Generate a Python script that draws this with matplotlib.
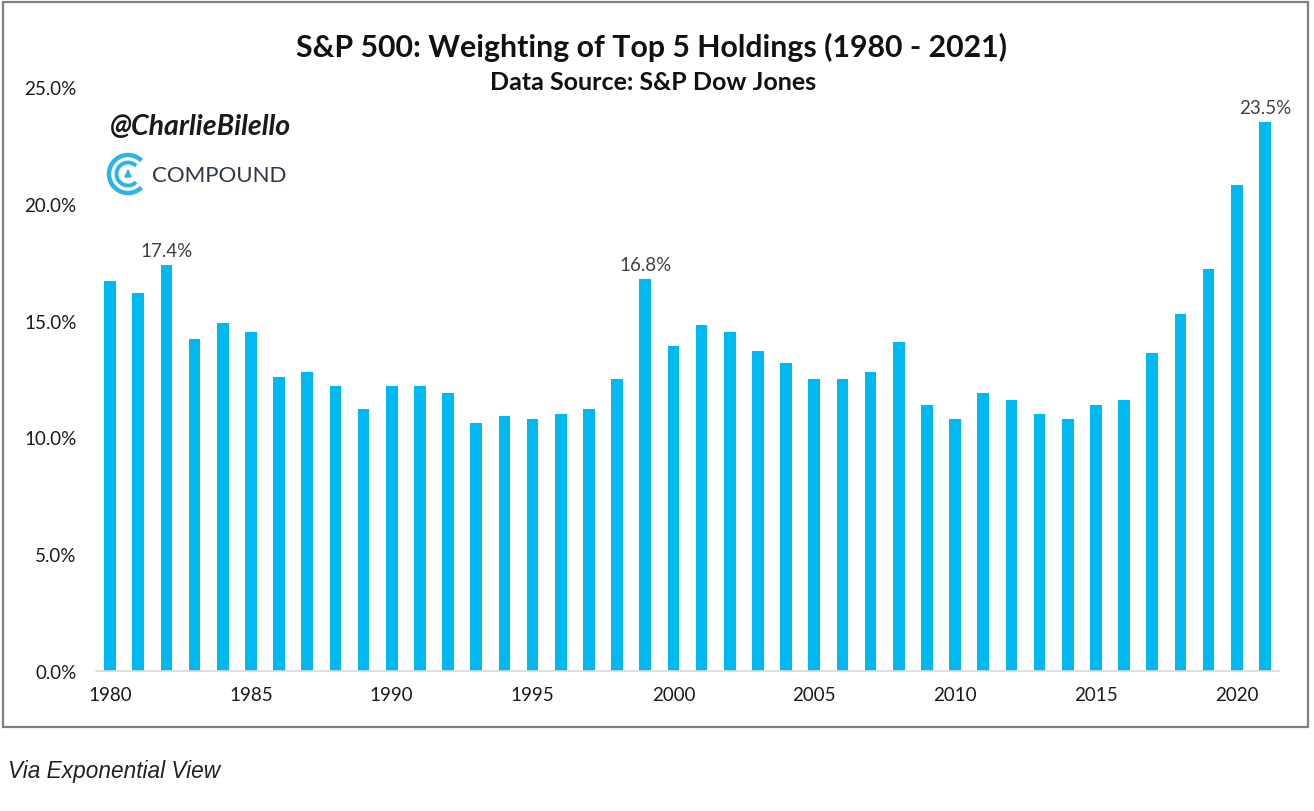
import matplotlib.pyplot as plt
from matplotlib.patches import Arc, Polygon, Rectangle
from matplotlib.ticker import FuncFormatter

# Weighting of the 5 largest S&P 500 holdings, % of index
years = list(range(1980, 2022))
weights = [
    16.7, 16.2, 17.4, 14.2, 14.9, 14.5, 12.6, 12.8, 12.2, 11.2,
    12.2, 12.2, 11.9, 10.6, 10.9, 10.8, 11.0, 11.2, 12.5, 16.8,
    13.9, 14.8, 14.5, 13.7, 13.2, 12.5, 12.5, 12.8, 14.1, 11.4,
    10.8, 11.9, 11.6, 11.0, 10.8, 11.4, 11.6, 13.6, 15.3, 17.2,
    20.8, 23.5,
]
labelled_years = [1982, 1999, 2021]
ytick_values = [0, 5, 10, 15, 20, 25]

BAR_COLOR = "#00B9F1"
FONT = ["Lato", "DejaVu Sans"]

W, H = 1314, 812
fig = plt.figure(figsize=(W / 100, H / 100), dpi=100)
fig.patch.set_facecolor("white")

# overlay in pixel coordinates for frame, logo and captions
over = fig.add_axes([0, 0, 1, 1], zorder=0)
over.set_xlim(0, W)
over.set_ylim(H, 0)
over.axis("off")
over.add_patch(Rectangle((3, 3), 1305, 725, fill=False, edgecolor="#7f7f7f", linewidth=1.6))

ax = fig.add_axes([96 / W, 1 - 672 / H, 1183 / W, 584 / H], zorder=1)
ax.patch.set_alpha(0)

x = list(range(len(years)))
ax.bar(x, weights, width=0.42, color=BAR_COLOR, edgecolor="none")

for yr in labelled_years:
    i = years.index(yr)
    ax.annotate(f"{weights[i]:.1f}%", (x[i], weights[i]), xytext=(0, 4),
                textcoords="offset points", ha="center", va="bottom",
                fontsize=13.5, color="#404040", family=FONT)

ax.set_xlim(-0.5, len(years) - 0.5)
ax.set_ylim(0, 25)
ax.set_yticks(ytick_values)
ax.yaxis.set_major_formatter(FuncFormatter(lambda v, _: f"{v:.1f}%"))
xt = [i for i, yr in enumerate(years) if yr % 5 == 0]
ax.set_xticks(xt)
ax.set_xticklabels([str(years[i]) for i in xt])
ax.tick_params(axis="both", length=0, labelsize=13.5, labelcolor="#1a1a1a")
ax.tick_params(axis="y", pad=14)
ax.tick_params(axis="x", pad=11)
for lab in ax.get_xticklabels() + ax.get_yticklabels():
    lab.set_family(FONT)
for side in ["left", "right", "top"]:
    ax.spines[side].set_visible(False)
ax.spines["bottom"].set_color("#d9d9d9")
ax.spines["bottom"].set_linewidth(1.2)

# titles
over.text(652, 47, "S&P 500: Weighting of Top 5 Holdings (1980 - 2021)", ha="center", va="center",
          fontsize=21.8, fontweight="bold", color="#111111", family=FONT)
over.text(653, 83, "Data Source: S&P Dow Jones", ha="center", va="center",
          fontsize=18, fontweight="bold", color="#111111", family=FONT)

# watermark
over.text(110, 127, "@CharlieBilello", ha="left", va="center", fontsize=20.5,
          fontstyle="italic", fontweight="bold", color="#1a1a1a", family=FONT)
cx, cy = 128, 175
for r, lw in [(38, 3.2), (23, 2.8)]:
    over.add_patch(Arc((cx, cy), r, r, theta1=45, theta2=315, color="#2BB5E6", linewidth=lw))
over.add_patch(Polygon([(cx - 3, cy + 3), (cx + 3, cy + 3), (cx, cy - 4)], closed=True,
                       color="#2BB5E6"))
over.text(152, 176, "COMPOUND", ha="left", va="center", fontsize=16,
          color="#2d3748", family=FONT)

over.text(8, 772, "Via Exponential View", ha="left", va="center", fontsize=16.3,
          fontstyle="italic", color="#222222", family=["Liberation Sans", "DejaVu Sans"])

fig.savefig("out.png", dpi=100)
